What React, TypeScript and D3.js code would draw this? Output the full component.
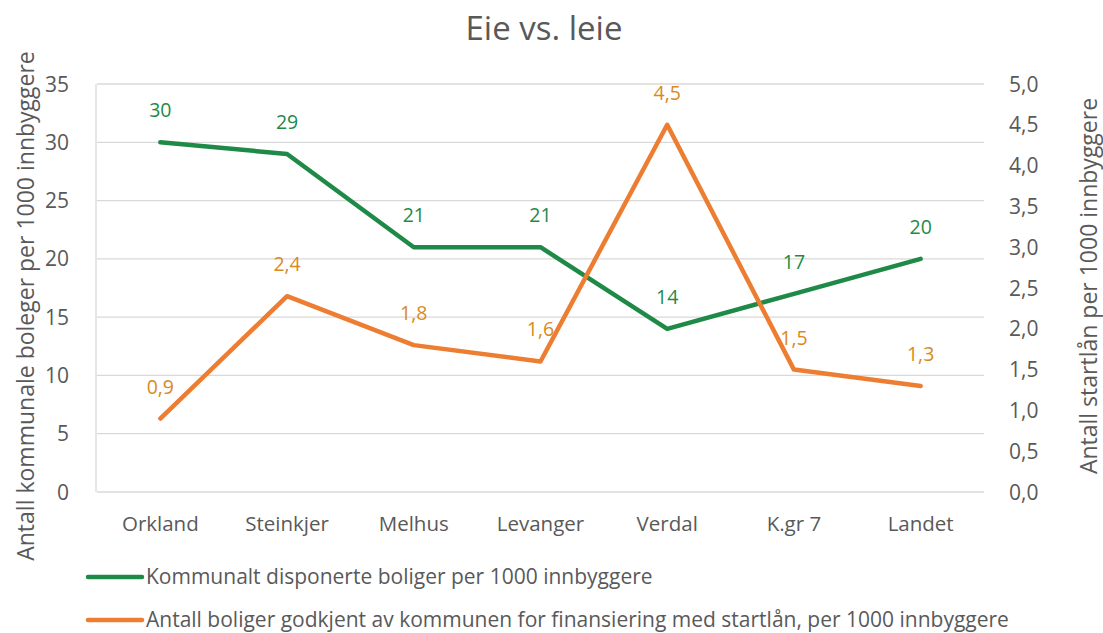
import React from "react";
import * as d3 from "d3";

const categories = ["Orkland", "Steinkjer", "Melhus", "Levanger", "Verdal", "K.gr 7", "Landet"];
const kommunale = [30, 29, 21, 21, 14, 17, 20];
const startlan = [0.9, 2.4, 1.8, 1.6, 4.5, 1.5, 1.3];
const leftTicks = [0, 5, 10, 15, 20, 25, 30, 35];
const rightTicks = [0, 0.5, 1, 1.5, 2, 2.5, 3, 3.5, 4, 4.5, 5];

const W = 1103;
const H = 633;
const plot = { left: 97, right: 984, top: 84, bottom: 492 };
const GREEN = "#1F8A47";
const ORANGE = "#ED7D31";
const ORANGE_LABEL = "#D98A22";
const TEXT = "#595959";
const FONT = "'Open Sans', sans-serif";

const fmt = (v: number) => v.toFixed(1).replace(".", ",");

export default function App() {
  const x = d3.scalePoint<string>().domain(categories).range([plot.left, plot.right]).padding(0.5);
  const yL = d3.scaleLinear().domain([0, 35]).range([plot.bottom, plot.top]);
  const yR = d3.scaleLinear().domain([0, 5]).range([plot.bottom, plot.top]);

  const lineL = d3
    .line<number>()
    .x((_, i) => x(categories[i]) as number)
    .y((d) => yL(d));
  const lineR = d3
    .line<number>()
    .x((_, i) => x(categories[i]) as number)
    .y((d) => yR(d));

  return (
    <svg width={W} height={H} style={{ position: "absolute", left: 0, top: 0, background: "#fff" }} fontFamily={FONT}>
      <rect x={0} y={0} width={W} height={H} fill="#fff" />
      <text x={544} y={40} textAnchor="middle" fontSize={33} fill={TEXT}>
        Eie vs. leie
      </text>
      {leftTicks.map((t) => (
        <line key={"g" + t} x1={plot.left} x2={plot.right} y1={yL(t)} y2={yL(t)} stroke="#D9D9D9" strokeWidth={1.3} />
      ))}
      <line x1={plot.left - 1} x2={plot.left - 1} y1={plot.top} y2={plot.bottom} stroke="#D9D9D9" strokeWidth={1.3} />
      {leftTicks.map((t) => (
        <text key={"l" + t} x={69} y={yL(t) + 7.5} textAnchor="end" fontSize={21} fill={TEXT}>
          {t}
        </text>
      ))}
      {rightTicks.map((t) => (
        <text key={"r" + t} x={1009} y={yR(t) + 7.5} textAnchor="start" fontSize={21} fill={TEXT}>
          {fmt(t)}
        </text>
      ))}
      {categories.map((c) => (
        <text key={c} x={x(c)} y={531} textAnchor="middle" fontSize={20.5} fill={TEXT}>
          {c}
        </text>
      ))}
      <text transform="translate(34,306) rotate(-90)" textAnchor="middle" fontSize={23} fill={TEXT}>
        Antall kommunale boleger per 1000 innbyggere
      </text>
      <text transform="translate(1097,286) rotate(-90)" textAnchor="middle" fontSize={23} fill={TEXT}>
        Antall startlån per 1000 innbyggere
      </text>
      <path d={lineL(kommunale) || ""} fill="none" stroke={GREEN} strokeWidth={4.5} strokeLinecap="round" strokeLinejoin="round" />
      <path d={lineR(startlan) || ""} fill="none" stroke={ORANGE} strokeWidth={4.5} strokeLinecap="round" strokeLinejoin="round" />
      {kommunale.map((v, i) => (
        <text key={"kl" + i} x={x(categories[i])} y={yL(v) - 25} textAnchor="middle" fontSize={19.5} fill={GREEN}>
          {v}
        </text>
      ))}
      {startlan.map((v, i) => (
        <text key={"sl" + i} x={x(categories[i])} y={yR(v) - 25} textAnchor="middle" fontSize={19.5} fill={ORANGE_LABEL}>
          {fmt(v)}
        </text>
      ))}
      <line x1={88} x2={142} y1={577} y2={577} stroke={GREEN} strokeWidth={4.5} strokeLinecap="round" />
      <text x={146} y={584} fontSize={21} fill={TEXT}>
        Kommunalt disponerte boliger per 1000 innbyggere
      </text>
      <line x1={88} x2={142} y1={620} y2={620} stroke={ORANGE} strokeWidth={4.5} strokeLinecap="round" />
      <text x={146} y={627} fontSize={21} fill={TEXT}>
        Antall boliger godkjent av kommunen for finansiering med startlån, per 1000 innbyggere
      </text>
    </svg>
  );
}
